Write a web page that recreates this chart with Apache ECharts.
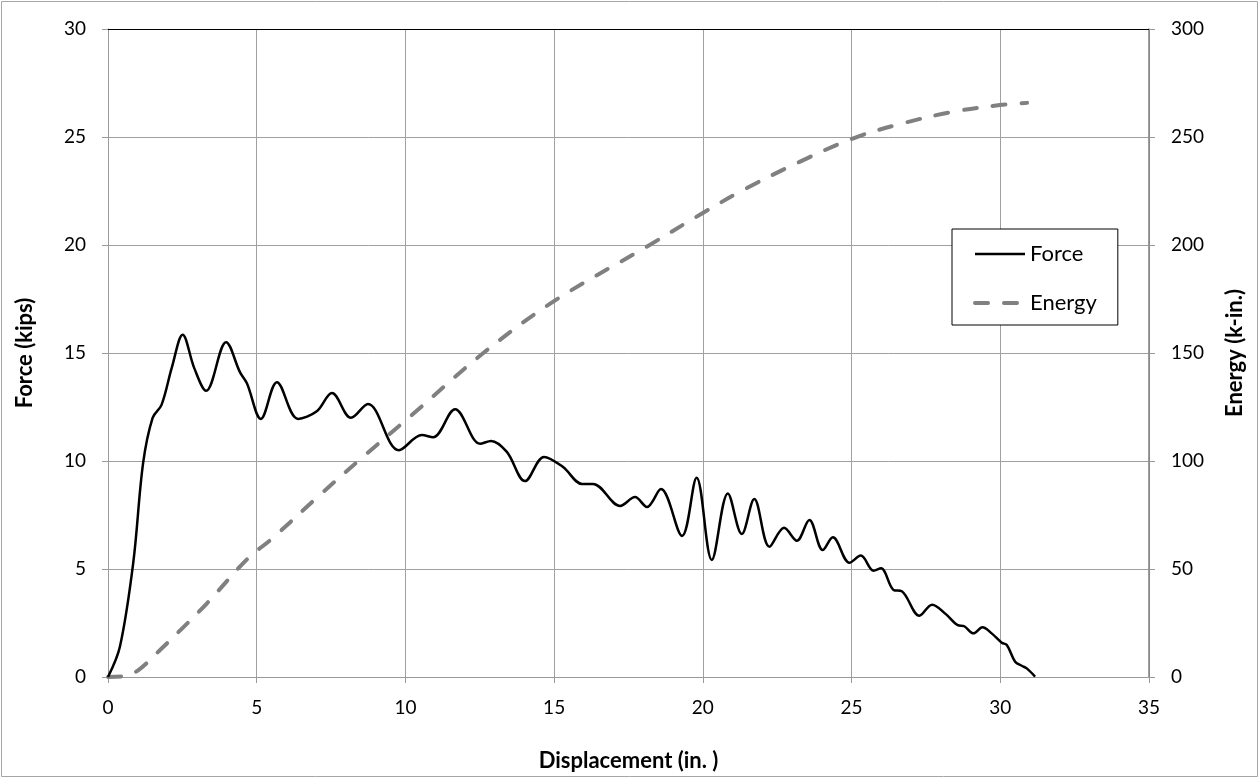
<!DOCTYPE html>
<html>
<head>
<meta charset="utf-8">
<script src="https://cdn.jsdelivr.net/npm/echarts@6/dist/echarts.min.js"></script>
<style>html,body{margin:0;padding:0;background:#fff}#c{width:1260px;height:779px}</style>
</head>
<body>
<div id="c"></div>
<script>
// Force (kips) vs Displacement (in.)
const forceData = [
  [0,0],[0.4,1.4],[0.85,5.3],[1.18,9.9],[1.5,12.0],[1.8,12.6],[2.15,14.35],[2.51,15.85],[2.9,14.3],[3.3,13.25],
  [3.97,15.5],[4.44,14.1],[4.67,13.6],[5.14,11.95],[5.68,13.65],[6.39,11.95],[7.02,12.3],[7.53,13.15],[8.17,12.0],
  [8.74,12.64],[9.78,10.5],[10.55,11.2],[10.93,11.1],[11.67,12.4],[12.51,10.8],[12.88,10.93],[13.41,10.42],
  [14.02,9.07],[14.66,10.19],[15.3,9.72],[15.94,8.94],[16.31,8.94],[17.22,7.92],[17.72,8.33],[18.12,7.87],
  [18.59,8.7],[19.3,6.53],[19.79,9.23],[20.3,5.42],[20.84,8.5],[21.31,6.62],[21.73,8.24],[22.24,6.03],
  [22.73,6.91],[23.16,6.31],[23.58,7.27],[24.03,5.88],[24.37,6.47],[24.93,5.29],[25.31,5.62],[25.74,4.92],
  [25.99,5.03],[26.41,4.03],[26.69,3.97],[27.28,2.84],[27.71,3.35],[28.17,2.91],[28.57,2.4],[28.79,2.35],
  [29.1,2.02],[29.4,2.3],[29.71,2.02],[30.05,1.59],[30.22,1.48],[30.5,0.71],[30.72,0.52],[30.89,0.4],[31.17,0.02]
];
// Energy (k-in.) vs Displacement (in.)
const energyData = [
  [0,0],[0.5,0.3],[1.0,3],[1.75,12.5],[2.53,23],[3.32,34],[4.71,55],[5.51,64],[7.02,83],[8.58,102],
  [10.15,120.5],[12.62,150],[14.97,173.8],[18.11,199.2],[19.9,214],[21.36,225.5],[23.27,238.6],[25.06,249.4],
  [26.63,256],[28.42,261.7],[29.99,264.8],[30.9,265.8]
];
const xTitle = 'Displacement (in. )';
const yLeftTitle = 'Force (kips)';
const yRightTitle = 'Energy (k-in.)';
const seriesNames = ['Force', 'Energy'];

const FONT = 'Lato, "Open Sans", "DejaVu Sans", sans-serif';
const TICK_SIZE = 19;
const NAME_SIZE = 22;
const forceLine = {color: '#000', width: 2.5};
const energyLine = {color: '#808080', width: 4, type: [13, 16], cap: 'round'};
const chart = echarts.init(document.getElementById('c'), null, {renderer: 'canvas'});
chart.setOption({
  animation: false,
  backgroundColor: '#fff',
  textStyle: {fontFamily: FONT},
  graphic: [{
    type: 'rect', silent: true, z: -1,
    shape: {x: 1.5, y: 1.5, width: 1256, height: 775},
    style: {fill: 'none', stroke: '#a6a6a6', lineWidth: 1}
  }],
  grid: {left: 108, right: 111, top: 29, bottom: 102, containLabel: false},
  legend: {
    left: 952, top: 229,
    orient: 'vertical',
    backgroundColor: '#fff',
    borderColor: '#000', borderWidth: 1,
    padding: [14, 21, 11, 21],
    itemGap: 27, itemWidth: 50, itemHeight: 14,
    itemStyle: {opacity: 0},
    textStyle: {fontFamily: FONT, fontSize: NAME_SIZE, color: '#000'},
    data: [
      {name: seriesNames[0], lineStyle: Object.assign({}, forceLine)},
      {name: seriesNames[1], lineStyle: Object.assign({}, energyLine)}
    ]
  },
  xAxis: {
    type: 'value', min: 0, max: 35, interval: 5,
    name: xTitle, nameLocation: 'middle', nameGap: 73,
    nameTextStyle: {fontFamily: FONT, fontSize: NAME_SIZE, fontWeight: 'bold', color: '#000'},
    axisLine: {show: true, onZero: false, lineStyle: {color: '#9a9a9a', width: 1}},
    axisTick: {show: true, inside: false, length: 6, lineStyle: {color: '#9a9a9a'}},
    axisLabel: {margin: 21, fontFamily: FONT, fontSize: TICK_SIZE, color: '#000'},
    splitLine: {show: true, lineStyle: {color: '#a0a0a0', width: 1}}
  },
  yAxis: [{
    type: 'value', min: 0, max: 30, interval: 5, position: 'left',
    name: yLeftTitle, nameLocation: 'middle', nameGap: 72,
    nameTextStyle: {fontFamily: FONT, fontSize: NAME_SIZE, fontWeight: 'bold', color: '#000'},
    axisLine: {show: true, lineStyle: {color: '#9a9a9a', width: 1}},
    axisTick: {show: true, length: 6, lineStyle: {color: '#9a9a9a'}},
    axisLabel: {margin: 22, fontFamily: FONT, fontSize: TICK_SIZE, color: '#000'},
    splitLine: {show: true, lineStyle: {color: '#a0a0a0', width: 1}}
  }, {
    type: 'value', min: 0, max: 300, interval: 50, position: 'right',
    name: yRightTitle, nameLocation: 'middle', nameGap: 75,
    nameTextStyle: {fontFamily: FONT, fontSize: NAME_SIZE, fontWeight: 'bold', color: '#000'},
    axisLine: {show: true, lineStyle: {color: '#7f7f7f', width: 1.5}},
    axisTick: {show: true, length: 6, lineStyle: {color: '#9a9a9a'}},
    axisLabel: {margin: 22, fontFamily: FONT, fontSize: TICK_SIZE, color: '#000'},
    splitLine: {show: false}
  }],
  series: [{
    name: seriesNames[0], type: 'line', yAxisIndex: 0,
    data: forceData, smooth: 0.35, symbol: 'none', showSymbol: false,
    lineStyle: forceLine,
    itemStyle: {color: '#000'},
    z: 3,
    markLine: {
      silent: true, symbol: 'none', label: {show: false},
      lineStyle: {color: '#000', type: 'solid', width: 1.2},
      data: [{yAxis: 30}]
    }
  }, {
    name: seriesNames[1], type: 'line', yAxisIndex: 1,
    data: energyData, smooth: 0.35, symbol: 'none', showSymbol: false,
    lineStyle: energyLine,
    itemStyle: {color: '#808080'},
    z: 2
  }]
});
</script>
</body>
</html>
